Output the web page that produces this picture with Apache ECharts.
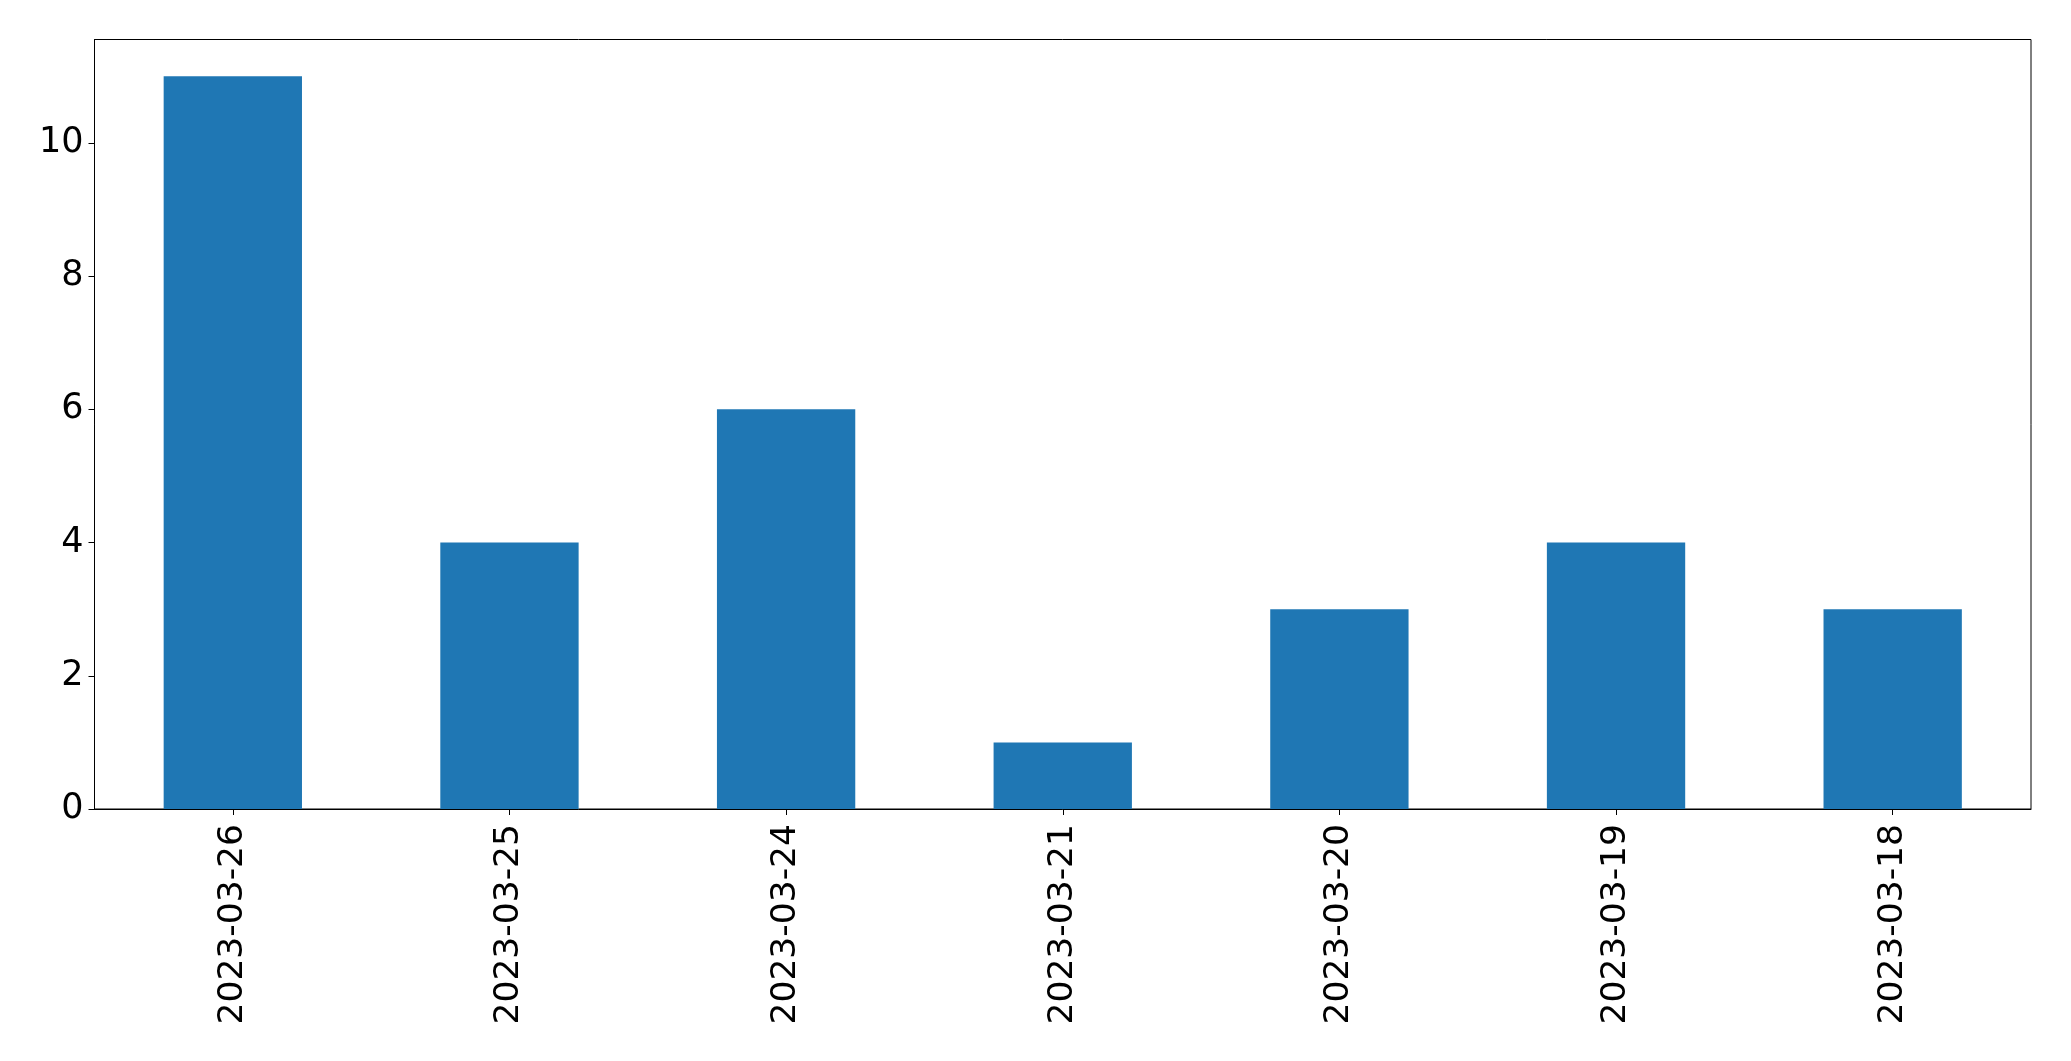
<!DOCTYPE html>
<html>
<head>
<meta charset="utf-8">
<style>html,body{margin:0;padding:0;background:#fff;}#chart{width:2071px;height:1061px;}</style>
<script src="https://cdn.jsdelivr.net/npm/echarts@6/dist/echarts.min.js"></script>
</head>
<body>
<div id="chart"></div>
<script>
const categories = ['2023-03-26','2023-03-25','2023-03-24','2023-03-21','2023-03-20','2023-03-19','2023-03-18'];
const values = [11, 4, 6, 1, 3, 4, 3];
const yTicks = [0, 2, 4, 6, 8, 10];

const chart = echarts.init(document.getElementById('chart'), null, {renderer: 'canvas'});
const font = 'DejaVu Sans';
chart.setOption({
  animation: false,
  grid: {left: 94.5, right: 40, top: 39.5, bottom: 252, show: true, borderColor: '#000', borderWidth: 1, backgroundColor: 'transparent'},
  xAxis: {
    type: 'category',
    data: categories,
    axisLine: {show: true, lineStyle: {color: '#000', width: 1}},
    axisTick: {show: true, alignWithLabel: true, length: 6, lineStyle: {color: '#000'}},
    axisLabel: {rotate: 90, margin: 15, color: '#000', fontFamily: font, fontSize: 34.5, interval: 0},
    splitLine: {show: false}
  },
  yAxis: {
    type: 'value',
    min: 0, max: 11.55, interval: 2,
    axisLine: {show: true, lineStyle: {color: '#000', width: 1}},
    axisTick: {show: true, length: 6, customValues: yTicks, lineStyle: {color: '#000'}},
    axisLabel: {margin: 11, color: '#000', fontFamily: font, fontSize: 35, customValues: yTicks},
    splitLine: {show: false}
  },
  series: [{
    type: 'bar',
    data: values,
    barWidth: '50%',
    itemStyle: {color: '#1f77b4'}
  }]
});
</script>
</body>
</html>
